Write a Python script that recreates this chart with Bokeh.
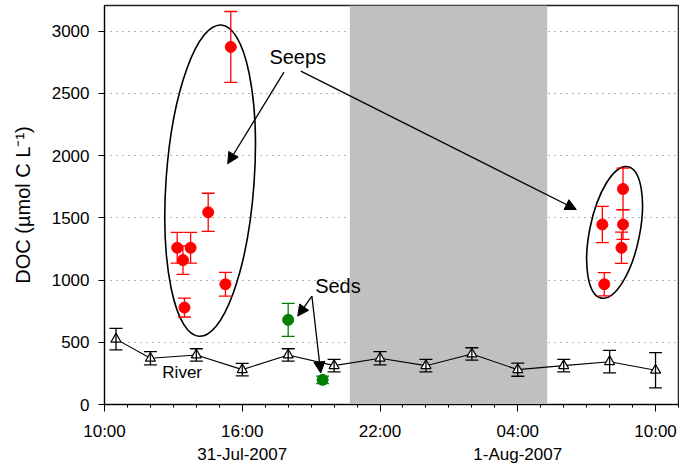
import math
import pandas as pd
from bokeh.plotting import figure
from bokeh.models import (ColumnDataSource, Whisker, TeeHead, FixedTicker, LinearAxis,
                          BoxAnnotation, Arrow, NormalHead, Label, Range1d)
from bokeh.embed import file_html
from bokeh.resources import INLINE

START = "2007-07-31 10:00"

# ---- data ----
river_time = ["2007-07-31 10:30", "2007-07-31 12:00", "2007-07-31 14:00", "2007-07-31 16:00",
              "2007-07-31 18:00", "2007-07-31 20:00", "2007-07-31 22:00", "2007-08-01 00:00",
              "2007-08-01 02:00", "2007-08-01 04:00", "2007-08-01 06:00", "2007-08-01 08:00",
              "2007-08-01 10:00"]
river_doc = [525, 371, 398, 280, 398, 312, 371, 312, 406, 280, 312, 344, 275]
river_err = [87, 53, 50, 50, 50, 50, 53, 50, 50, 53, 50, 90, 142]

seds_time = ["2007-07-31 18:00", "2007-07-31 19:30"]
seds_doc = [680, 198]
seds_err = [133, 30]

seep_time = ["2007-07-31 13:10", "2007-07-31 13:25", "2007-07-31 13:29", "2007-07-31 13:45",
             "2007-07-31 14:31", "2007-07-31 15:16", "2007-07-31 15:30",
             "2007-08-01 07:41", "2007-08-01 07:46", "2007-08-01 08:35", "2007-08-01 08:35",
             "2007-08-01 08:31"]
seep_doc = [1259, 1160, 779, 1259, 1544, 966, 2872, 1446, 966, 1731, 1446, 1259]
seep_err = [124, 114, 76, 124, 153, 96, 285, 145, 94, 168, 120, 125]

night_start = "2007-07-31 20:41"
night_end = "2007-08-01 05:17"

x_tick_hours = [0, 6, 12, 18, 24]
x_tick_labels = ["10:00", "16:00", "22:00", "04:00", "10:00"]
date_tick_hours = [6, 18]
date_tick_labels = ["31-Jul-2007", "1-Aug-2007"]
y_ticks = [0, 500, 1000, 1500, 2000, 2500, 3000]

# annotations (time, value)
ellipse_center = [("2007-07-31 14:36", 1798), ("2007-08-01 08:13", 1382)]
ellipse_w_px = [88, 50]
ellipse_h_px = [312, 134]
ellipse_angle_deg = [-4.1, -11.5]
arrows = [(("2007-07-31 17:49", 2670), ("2007-07-31 15:22", 1934)),
          (("2007-07-31 18:33", 2678), ("2007-08-01 06:33", 1566)),
          (("2007-07-31 19:02", 870), ("2007-07-31 18:25", 710)),
          (("2007-07-31 19:02", 870), ("2007-07-31 19:25", 254))]
labels = [("Seeps", "2007-07-31 18:25", 2790, "20px"),
          ("Seds", "2007-07-31 20:10", 950, "20px"),
          ("River", "2007-07-31 13:23", 259, "17px")]


def hrs(t):
    return (pd.Timestamp(t) - pd.Timestamp(START)).total_seconds() / 3600.0


FONT = "Liberation Sans"

p = figure(width=679, height=466, output_backend="svg", toolbar_location=None,
           x_range=Range1d(0, 25), y_range=Range1d(0, 3205),
           min_border_left=104, min_border_right=1, min_border_top=5, min_border_bottom=58)
p.background_fill_color = "white"
p.outline_line_color = "#222222"
p.outline_line_width = 1.5

# night shading
p.add_layout(BoxAnnotation(left=hrs(night_start), right=hrs(night_end), fill_color="#c0c0c0",
                           fill_alpha=1.0, line_color=None, level="underlay"))

# grids
p.xgrid.grid_line_color = None
p.ygrid.ticker = FixedTicker(ticks=y_ticks)
p.ygrid.grid_line_color = "#666666"
p.ygrid.grid_line_dash = "1 5"
p.ygrid.grid_line_width = 1

# axes
xa = p.xaxis[0]
xa.ticker = FixedTicker(ticks=x_tick_hours, minor_ticks=list(range(0, 26)))
xa.major_label_overrides = {h: l for h, l in zip(x_tick_hours, x_tick_labels)}
xa.major_tick_out = 7
xa.major_tick_in = 0
xa.minor_tick_out = 3
xa.minor_tick_in = 0
xa.major_label_text_font = FONT
xa.major_label_text_font_size = "17px"
xa.major_label_text_color = "black"
xa.major_label_standoff = 10
xa.axis_line_color = "black"

da = LinearAxis(ticker=FixedTicker(ticks=date_tick_hours, minor_ticks=[]))
da.major_label_overrides = {h: l for h, l in zip(date_tick_hours, date_tick_labels)}
da.axis_line_color = None
da.major_tick_line_color = None
da.minor_tick_line_color = None
da.major_tick_out = 0
da.major_tick_in = 0
da.minor_tick_out = 0
da.minor_tick_in = 0
da.major_label_standoff = 1
da.major_label_text_font = FONT
da.major_label_text_font_size = "17px"
da.major_label_text_color = "black"
p.add_layout(da, "below")

ya = p.yaxis[0]
ya.ticker = FixedTicker(ticks=y_ticks, minor_ticks=[])
ya.major_tick_out = 6
ya.major_tick_in = 0
ya.major_label_text_font = FONT
ya.major_label_text_font_size = "17px"
ya.major_label_text_color = "black"
ya.major_label_standoff = 9
ya.axis_label = "DOC (µmol C L⁻¹)"
ya.axis_label_text_font = FONT
ya.axis_label_text_font_size = "20px"
ya.axis_label_text_font_style = "normal"
ya.axis_label_text_color = "black"
ya.axis_label_standoff = 15
ya.axis_line_color = "black"


def add_series(times, vals, errs, color):
    x = [hrs(t) for t in times]
    src = ColumnDataSource(dict(x=x, y=vals,
                                lo=[v - e for v, e in zip(vals, errs)],
                                hi=[v + e for v, e in zip(vals, errs)]))
    p.add_layout(Whisker(source=src, base="x", lower="lo", upper="hi",
                         line_color=color, line_width=1.3,
                         upper_head=TeeHead(size=13, line_color=color, line_width=1.3),
                         lower_head=TeeHead(size=13, line_color=color, line_width=1.3),
                         level="glyph"))
    return src, x


rsrc, rx = add_series(river_time, river_doc, river_err, "black")
p.line(rx, river_doc, line_color="black", line_width=1.1)
p.scatter("x", "y", source=rsrc, marker="triangle", size=10, fill_color="white",
          line_color="black", line_width=1.2)

ssrc, _ = add_series(seds_time, seds_doc, seds_err, "#008000")
p.scatter("x", "y", source=ssrc, marker="circle", size=11, fill_color="#008000",
          line_color="#008000")

psrc, _ = add_series(seep_time, seep_doc, seep_err, "#ff0000")
p.scatter("x", "y", source=psrc, marker="circle", size=11, fill_color="#ff0000",
          line_color="#ff0000")

# ellipses
p.ellipse(x=[hrs(c[0]) for c in ellipse_center], y=[c[1] for c in ellipse_center],
          width=ellipse_w_px, height=ellipse_h_px, width_units="screen", height_units="screen",
          angle=[math.radians(a) for a in ellipse_angle_deg],
          fill_alpha=0, line_color="black", line_width=1.6)

# arrows
for (t0, v0), (t1, v1) in arrows:
    p.add_layout(Arrow(x_start=hrs(t0), y_start=v0, x_end=hrs(t1), y_end=v1,
                       line_color="black", line_width=1.3,
                       end=NormalHead(size=11, fill_color="black", line_color="black")))

for txt, t, v, fs in labels:
    p.add_layout(Label(x=hrs(t), y=v, text=txt, text_font=FONT, text_font_size=fs,
                       text_align="center", text_baseline="middle", text_color="black"))

open("out.html", "w").write(file_html(p, INLINE))
